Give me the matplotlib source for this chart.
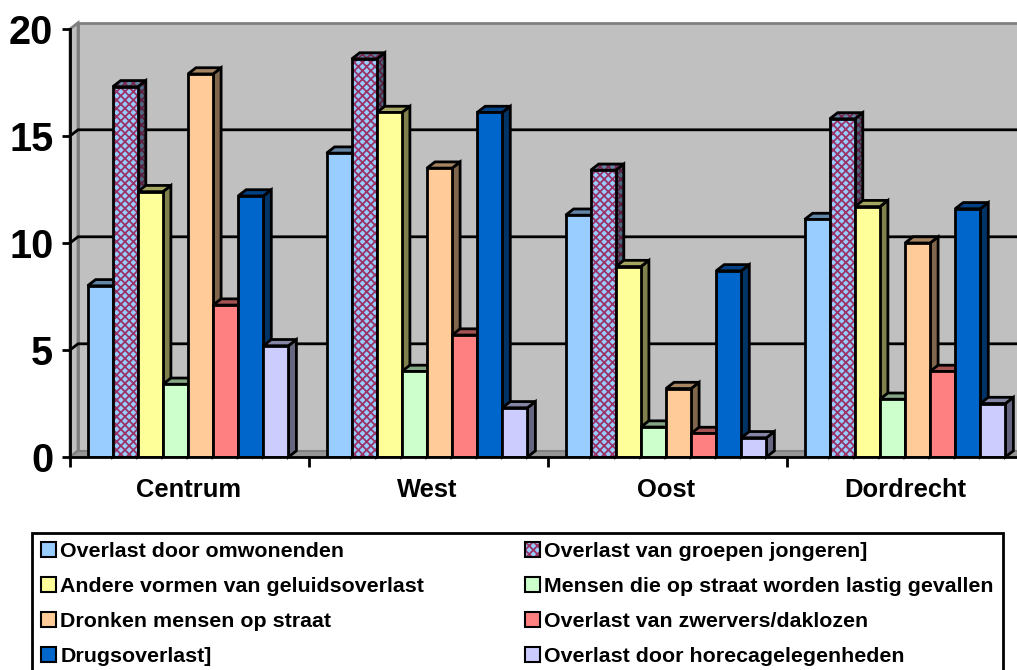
import matplotlib
matplotlib.use("Agg")
import matplotlib.pyplot as plt
from matplotlib.patches import Patch, Polygon
from matplotlib.colors import to_rgb

plt.rcParams['font.family'] = ['Liberation Sans', 'DejaVu Sans']
plt.rcParams['font.weight'] = 'bold'
plt.rcParams['hatch.linewidth'] = 1.3

categories = ['Centrum', 'West', 'Oost', 'Dordrecht']
series_names = ['Overlast door omwonenden', 'Overlast van groepen jongeren]',
                'Andere vormen van geluidsoverlast', 'Mensen die op straat worden lastig gevallen',
                'Dronken mensen op straat', 'Overlast van zwervers/daklozen',
                'Drugsoverlast]', 'Overlast door horecagelegenheden']
omwonenden = [8.0, 14.2, 11.3, 11.1]
jongeren = [17.3, 18.6, 13.4, 15.8]
geluid = [12.4, 16.1, 8.9, 11.7]
lastig = [3.4, 4.0, 1.4, 2.7]
dronken = [17.9, 13.5, 3.2, 10.0]
zwervers = [7.1, 5.7, 1.1, 4.0]
drugs = [12.2, 16.1, 8.7, 11.6]
horeca = [5.2, 2.3, 0.9, 2.5]
all_series = [omwonenden, jongeren, geluid, lastig, dronken, zwervers, drugs, horeca]
colors = ['#99CCFF', '#99CCFF', '#FFFF99', '#CCFFCC', '#FFCC99', '#FF8080', '#0066CC', '#CCCCFF']
hatches = [None, 'xxxx', None, None, None, None, None, None]
hatch_col = '#993366'

W, H = 1017, 670
fig = plt.figure(figsize=(W / 100, H / 100), dpi=100, facecolor='white')
L, R, T, B = 70, 1026, 29, 457
ax = fig.add_axes([L / W, 1 - B / H, (R - L) / W, (B - T) / H])
ax.set_xlim(0, 4)
ax.set_ylim(0, 20)
ax.patch.set_visible(False)

dx = 8 / 239
dy = 6.2 / 21.4
lw = 2.0


def shade(c, f):
    return tuple(v * f for v in to_rgb(c))


def poly(pts, fc, ec='black', lw_=lw, z=3, hatch=None, hc=None):
    if hatch:
        ax.add_patch(Polygon(pts, closed=True, facecolor=fc, edgecolor=hc, linewidth=0,
                             hatch=hatch, zorder=z, clip_on=False))
        fc = 'none'
    p = Polygon(pts, closed=True, facecolor=fc, edgecolor=ec, linewidth=lw_,
                zorder=z, clip_on=False, joinstyle='miter')
    ax.add_patch(p)
    return p


# walls
poly([(dx, dy), (4, dy), (4, 20 + dy), (dx, 20 + dy)], '#C0C0C0', '#808080', 2, 1)
poly([(0, 0), (dx, dy), (dx, 20 + dy), (0, 20)], '#C0C0C0', '#808080', 2, 1)
poly([(0, 0), (4, 0), (4, dy), (dx, dy)], '#969696', '#808080', 1.5, 1)
for v in [5, 10, 15]:
    ax.plot([0, dx, 4], [v, v + dy, v + dy], color='black', lw=2, zorder=2,
            solid_joinstyle='miter', clip_on=False)

# bars
bw = 25.1 / 239
start = 17.6 / 239
z = 3
for c in range(len(categories)):
    for s, vals in enumerate(all_series):
        x0 = c + start + s * bw
        x1 = x0 + bw
        v = vals[c]
        h = hatches[s]
        poly([(x1, 0), (x1 + dx, dy), (x1 + dx, v + dy), (x1, v)], shade(colors[s], 0.5), z=z, hatch=h, hc=shade(hatch_col, 0.6))
        poly([(x0, v), (x1, v), (x1 + dx, v + dy), (x0 + dx, v + dy)], shade(colors[s], 0.65), z=z, hatch=h, hc=shade(hatch_col, 0.8))
        if h:
            ax.bar(x0, v, width=bw, align='edge', color=colors[s], edgecolor=hatch_col,
                   linewidth=0, hatch=h, zorder=z + 0.4)
            ax.bar(x0, v, width=bw, align='edge', color='none', edgecolor='black',
                   linewidth=lw, zorder=z + 0.5)
        else:
            ax.bar(x0, v, width=bw, align='edge', color=colors[s], edgecolor='black',
                   linewidth=lw, zorder=z + 0.5)
        z += 1

# axes styling
for sp in ['top', 'right']:
    ax.spines[sp].set_visible(False)
for sp in ['left', 'bottom']:
    ax.spines[sp].set_linewidth(2)
    ax.spines[sp].set_zorder(200)
ax.set_yticks([0, 5, 10, 15, 20])
ax.set_yticklabels(['0', '5', '10', '15', '20'], fontsize=28.5, fontweight='bold')
ax.tick_params(axis='y', length=6, width=2, pad=6)
ax.set_xticks([0, 1, 2, 3, 4])
ax.set_xticklabels([])
ax.tick_params(axis='x', which='major', length=7, width=2)
ax.set_xticks([i + 0.494 for i in range(4)], minor=True)
ax.set_xticklabels(categories, minor=True, fontsize=18.4, fontweight='bold')
ax.tick_params(axis='x', which='minor', length=0, pad=15)

# legend
handles = []
for s, name in enumerate(series_names):
    if hatches[s]:
        handles.append((Patch(facecolor=colors[s], edgecolor=hatch_col, linewidth=0, hatch=hatches[s]),
                        Patch(fill=False, edgecolor='black', linewidth=1.5)))
    else:
        handles.append(Patch(facecolor=colors[s], edgecolor='black', linewidth=1.5))
# matplotlib fills columns first, so reorder to keep reading order row by row
order = [0, 2, 4, 6, 1, 3, 5, 7]
leg = fig.legend([handles[i] for i in order], [series_names[i] for i in order],
                 ncol=2, loc='upper left', bbox_to_anchor=(32 / W, 1 - 533 / H),
                 borderaxespad=0, fancybox=False, framealpha=1, edgecolor='black',
                 prop={'family': 'Liberation Sans', 'weight': 'bold', 'size': 15.41},
                 handlelength=0.7, handleheight=0.7, handletextpad=0.2,
                 columnspacing=4.72, labelspacing=0.74, borderpad=0.42)
leg.get_frame().set_linewidth(2)

fig.savefig('out.png', dpi=100, facecolor='white')
